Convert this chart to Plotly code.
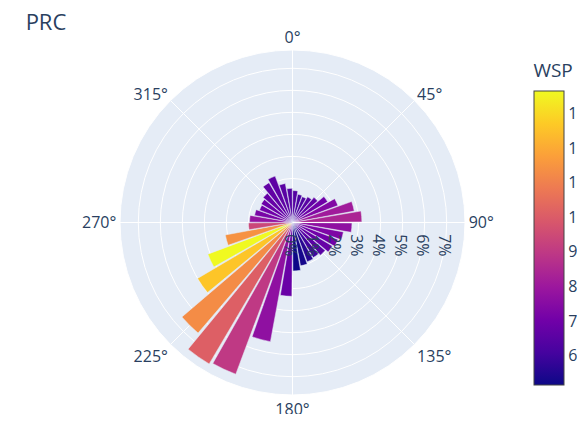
import plotly.graph_objects as go

# Direction bins (degrees, bin centres)
directions = [5, 15, 25, 35, 45, 55, 65, 75, 85, 95, 105, 115,
              125, 135, 145, 155, 165, 175, 185, 195, 205, 215, 225, 235,
              245, 255, 265, 275, 285, 295, 305, 315, 325, 335, 345, 355]

# Frequency (%) per direction bin
frequency = [1.45, 1.3, 1.25, 1.35, 1.5, 1.85, 2.2, 2.85, 3.15, 2.7, 2.35, 2.2,
             2.1, 1.95, 1.85, 1.9, 2.0, 2.2, 3.35, 5.5, 7.35, 7.45, 6.6, 5.0,
             4.1, 3.1, 2.0, 1.95, 1.75, 1.6, 1.65, 1.75, 2.1, 2.25, 1.8, 1.55]

# Mean wind speed per direction bin
wsp = [6.4, 6.2, 6.3, 6.5, 6.7, 7.0, 7.4, 8.1, 8.4, 7.7, 7.3, 7.0,
       6.8, 6.5, 6.0, 5.6, 5.3, 5.15, 6.85, 7.7, 9.0, 10.1, 11.3, 12.6,
       13.65, 11.45, 9.4, 7.8, 7.2, 7.0, 6.9, 6.8, 6.7, 6.6, 6.5, 6.4]

fig = go.Figure(
    go.Barpolar(
        r=frequency,
        theta=directions,
        marker=dict(
            color=wsp,
            colorscale="Plasma",
            cmin=min(wsp),
            cmax=max(wsp),
            showscale=True,
            colorbar=dict(
                title=dict(text="WSP"),
                thickness=30,
                dtick=1,
            ),
        ),
        name="",
    )
)

fig.update_layout(
    template="plotly",
    title=dict(text="PRC", x=0.031, xanchor="left", y=1 - 15 / 422, yanchor="middle"),
    font=dict(size=16),
    margin=dict(l=62, r=62, t=42, b=19, autoexpand=False),
    polar=dict(
        angularaxis=dict(direction="clockwise", rotation=90),
        radialaxis=dict(range=[0, 7.83], dtick=1, ticksuffix="%"),
    ),
    showlegend=False,
)

fig.write_html("out.html")
